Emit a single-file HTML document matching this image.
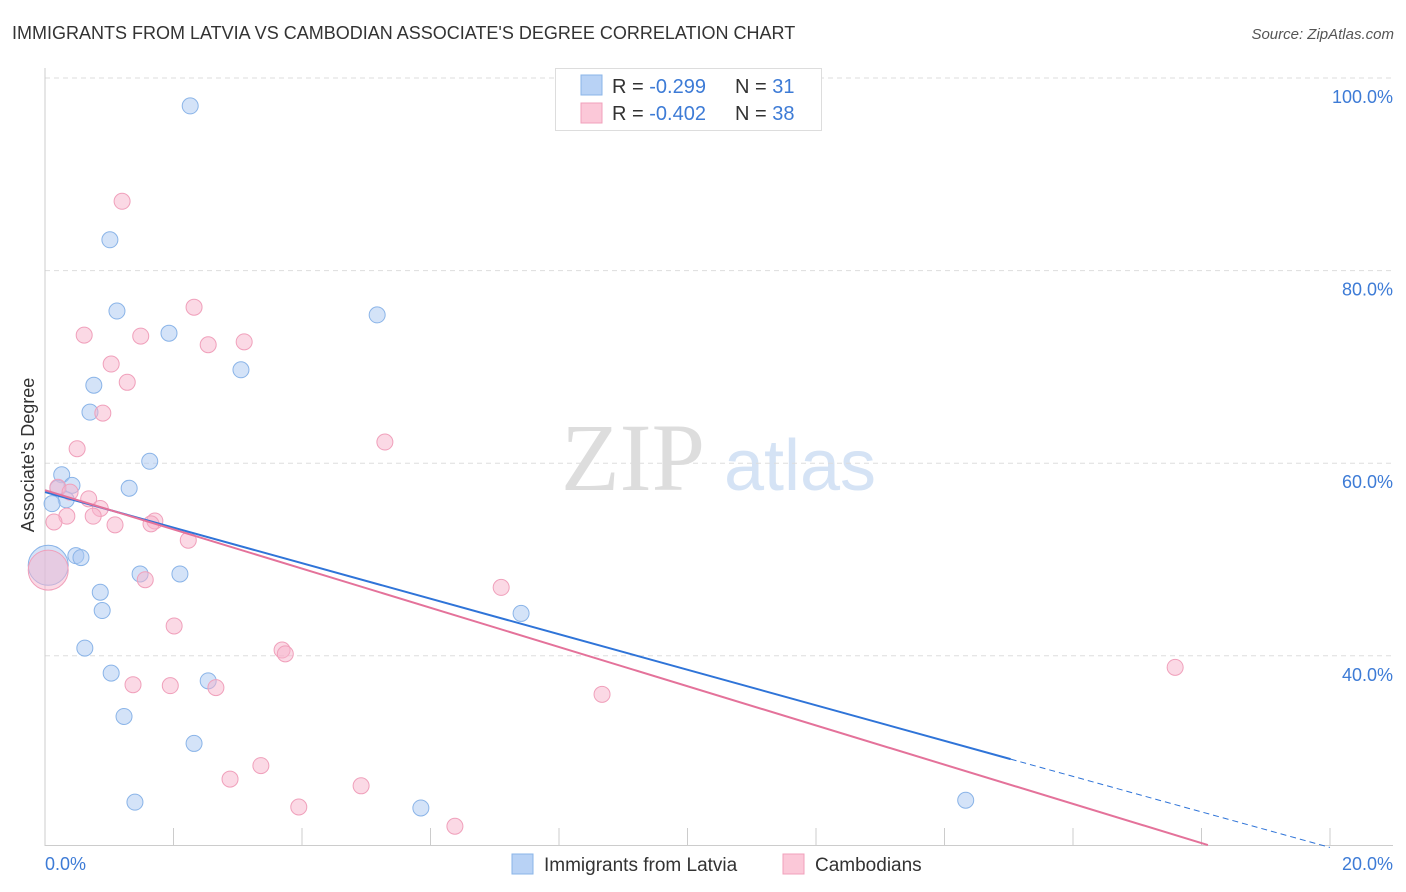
<!DOCTYPE html>
<html><head><meta charset="utf-8"><style>
body{margin:0;background:#fff;font-family:"Liberation Sans",sans-serif;}
svg{display:block}
</style></head><body>
<svg id="c" width="1406" height="892" xmlns="http://www.w3.org/2000/svg">
<text x="12" y="39" font-size="18" fill="#333">IMMIGRANTS FROM LATVIA VS CAMBODIAN ASSOCIATE'S DEGREE CORRELATION CHART</text>
<text x="1394" y="39" font-size="15" fill="#555" font-style="italic" text-anchor="end">Source: ZipAtlas.com</text>
<g>
<text x="633" y="490" font-size="96" fill="#ddd" font-family="Liberation Serif,serif" text-anchor="middle">ZIP</text>
<text x="800" y="490" font-size="72" fill="#d5e3f5" text-anchor="middle">atlas</text>
</g>
<g id="grid"></g>
<g id="axes"></g>
<g id="marks"></g>
<text transform="translate(34,455) rotate(-90)" font-size="18" fill="#333" text-anchor="middle">Associate's Degree</text>
<g>
<rect x="555.5" y="68.5" width="266" height="62" fill="#fff" stroke="#ddd"/>
<rect x="581" y="75" width="21" height="20" fill="#b8d2f5" stroke="#8ab4e8"/>
<text x="612" y="93" font-size="20" fill="#333">R = <tspan fill="#3d7bd6">-0.299</tspan></text>
<text x="735" y="93" font-size="20" fill="#333">N = <tspan fill="#3d7bd6"> 31</tspan></text>
<rect x="581" y="103" width="21" height="20" fill="#fbc8d8" stroke="#f0a0bb"/>
<text x="612" y="120" font-size="20" fill="#333">R = <tspan fill="#3d7bd6">-0.402</tspan></text>
<text x="735" y="120" font-size="20" fill="#333">N = <tspan fill="#3d7bd6">38</tspan></text>
</g>
<g>
<rect x="512" y="854" width="21" height="20" fill="#b8d2f5" stroke="#8ab4e8"/>
<text x="544" y="871" font-size="19" fill="#333">Immigrants from Latvia</text>
<rect x="783" y="854" width="21" height="20" fill="#fbc8d8" stroke="#f0a0bb"/>
<text x="815" y="871" font-size="19" fill="#333">Cambodians</text>
</g>
</svg>
<script>
const blueX=[2.26,1.01,1.12,5.17,1.93,3.05,0.76,0.70,1.63,0.26,0.42,0.20,1.31,0.33,0.11,0.48,0.56,0.05,1.48,2.10,0.86,0.89,7.41,0.62,1.03,2.54,1.23,2.32,1.40,5.85,14.33];
const blueY=[97.1,83.2,75.8,75.4,73.5,69.7,68.1,65.3,60.2,58.8,57.7,57.4,57.4,56.2,55.8,50.4,50.2,49.4,48.5,48.5,46.6,44.7,44.4,40.8,38.2,37.4,33.7,30.9,24.8,24.2,25.0];
const blueR=[8,8,8,8,8,8,8,8,8,8,8,8,8,8,8,8,8,20,8,8,8,8,8,8,8,8,8,8,8,8,8];
const pinkX=[1.20,2.32,0.61,1.49,3.10,2.54,1.03,1.28,0.90,5.29,0.50,0.20,0.39,0.68,0.86,0.75,0.34,0.14,1.09,1.71,1.65,2.23,0.05,1.56,7.10,2.01,3.69,3.74,17.59,1.37,1.95,2.66,8.67,3.36,2.88,4.92,3.95,6.38];
const pinkY=[87.2,76.2,73.3,73.2,72.6,72.3,70.3,68.4,65.2,62.2,61.5,57.5,57.0,56.3,55.3,54.5,54.5,53.9,53.6,54.0,53.7,52.0,48.9,47.9,47.1,43.1,40.6,40.2,38.8,37.0,36.9,36.7,36.0,28.6,27.2,26.5,24.3,22.3];
const pinkR=[8,8,8,8,8,8,8,8,8,8,8,8,8,8,8,8,8,8,8,8,8,8,20,8,8,8,8,8,8,8,8,8,8,8,8,8,8,8];
const trendIntercept=[57.0,57.2];
const trendSlope=[-1.845,-2.036];
const trendSolidEnd=[15.03,18.1];
const yTicks=[40,60,80,100];
const xTickLabels=["0.0%","20.0%"];

const NS="http://www.w3.org/2000/svg";
const X=v=>45+v*64.25;
const Y=v=>78+(100-v)*9.63;
function mk(t,a,p){const e=document.createElementNS(NS,t);for(const k in a)e.setAttribute(k,a[k]);p.appendChild(e);return e;}
const grid=document.getElementById('grid'),axes=document.getElementById('axes'),marks=document.getElementById('marks');
yTicks.forEach(t=>{
 const l=mk('line',{x1:45,x2:1393,y1:Y(t),y2:Y(t),stroke:'#ddd','stroke-dasharray':'5,4'},grid);
 
 
 const tx=mk('text',{x:1393,y:Y(t)+25,'font-size':18,fill:'#3d7bd6','text-anchor':'end'},axes);
 tx.textContent=t.toFixed(1)+'%';
 
 
});
const ya=mk('line',{x1:45,x2:45,y1:68,y2:846,stroke:'#ccc'},axes);


const xa=mk('line',{x1:45,x2:1393,y1:845.5,y2:845.5,stroke:'#ccc'},axes);


for(let i=1;i<=10;i++){
 const tk=mk('line',{x1:X(i*2),x2:X(i*2),y1:828,y2:846,stroke:'#ccc'},axes);
 
 
}
[[0,'start',45],[1,'end',1393]].forEach(([i,a,x])=>{
 const tx=mk('text',{x:x,y:870,'font-size':18,fill:'#3d7bd6','text-anchor':a},axes);
 tx.textContent=xTickLabels[i];
 
 
});
function pts(xs,ys,rs,fill,stroke,name){
 xs.forEach((x,i)=>{
  const c=mk('circle',{cx:X(x),cy:Y(ys[i]),r:rs[i],fill:fill,stroke:stroke,'stroke-width':1},marks);
  
  
 });
}
pts(blueX,blueY,blueR,'rgba(170,200,242,0.5)','#8ab4e8','point-latvia');
pts(pinkX,pinkY,pinkR,'rgba(248,180,203,0.5)','#f0a0bb','point-cambodians');
const cols=['#2f74d8','#e4729a'];
[0,1].forEach(s=>{
 const f=x=>trendIntercept[s]+trendSlope[s]*x;
 const e=trendSolidEnd[s];
 const l=mk('line',{x1:X(0),y1:Y(f(0)),x2:X(e),y2:Y(f(e)),stroke:cols[s],'stroke-width':2},marks);
 
 
 if(s===0){
  const d=mk('line',{x1:X(e),y1:Y(f(e)),x2:X(20),y2:Y(f(20)),stroke:cols[s],'stroke-width':1,'stroke-dasharray':'6,4'},marks);
  
  
 }
});
</script>
</body></html>
